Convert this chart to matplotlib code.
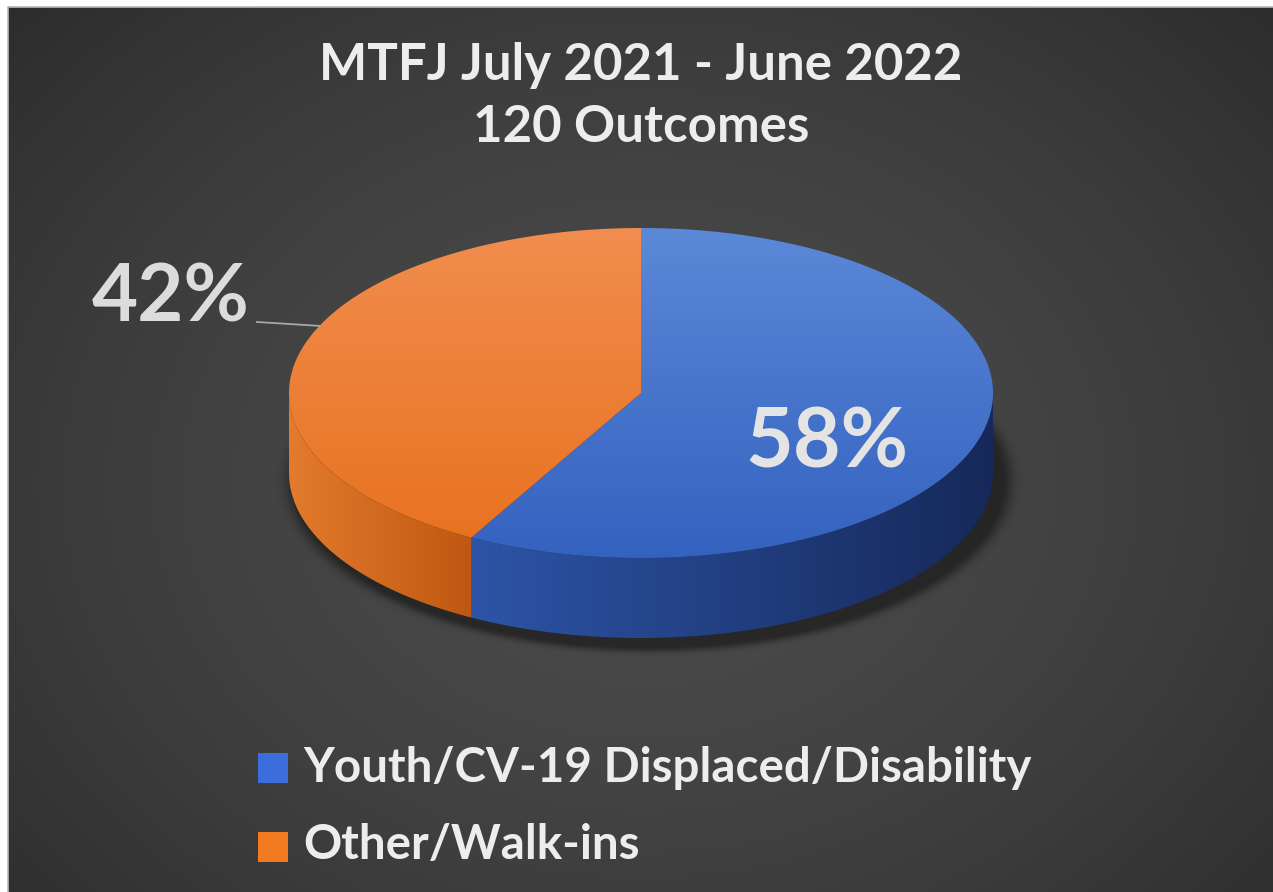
import numpy as np
import matplotlib.pyplot as plt
from matplotlib.patches import Polygon, Rectangle

W, H = 1273, 892

title_lines = ["MTFJ July 2021 - June 2022", "120 Outcomes"]
categories = ["Youth/CV-19 Displaced/Disability", "Other/Walk-ins"]
shares = [58, 42]
pct_labels = ["58%", "42%"]

# slice shading: top face back/front, side wall left/right
top_back = ["#5c88d8", "#f18d4e"]
top_front = ["#3462bf", "#e8711e"]
side_left = ["#2d54a6", "#e27b2c"]
side_right = ["#16295a", "#c05812"]
legend_colors = ["#3b6edb", "#f27a20"]

FONT = "Lato"
TEXT = "#ededed"

# pie geometry in pixels (y grows downward)
cx, cy, a, b, depth = 641, 393, 352, 165, 80


def rim(t, dy=0.0):
    t = np.radians(t)
    return cx + a * np.cos(t), cy - b * np.sin(t) + dy


def hex2rgb(c):
    c = c.lstrip("#")
    return np.array([int(c[i:i + 2], 16) / 255 for i in (0, 2, 4)])


def gradient(c0, c1, n, axis):
    f = np.linspace(0, 1, n)[:, None]
    g = hex2rgb(c0) * (1 - f) + hex2rgb(c1) * f
    return g[:, None, :] if axis == 0 else g[None, :, :]


fig = plt.figure(figsize=(W / 100, H / 100), dpi=100, facecolor="white")
ax = fig.add_axes([0, 0, 1, 1])
ax.set_axis_off()

# dark radial backdrop with a soft shadow under the pie
yy, xx = np.mgrid[0:H, 0:W].astype(float)
r = np.sqrt(((xx - 640) / 700) ** 2 + ((yy - 480) / 560) ** 2)
bg = 0.295 - 0.12 * np.clip(r / 1.25, 0, 1.2) ** 1.6
rs = np.sqrt(((xx - cx - 4) / (a + 2)) ** 2 + ((yy - cy - depth - 4) / (b + 2)) ** 2)
shade = np.where(rs > 1, np.exp(-((rs - 1) / 0.035) ** 2), 1.0)
shade = shade * (yy > cy)
bg = bg * (1 - 0.45 * shade)
ax.imshow(np.dstack([bg, bg, bg]), extent=(8, W, H, 7), origin="upper",
          aspect="auto", zorder=0)
ax.plot([8, 8, W], [H, 7, 7], color="#b8b8b8", lw=1.2, zorder=1)

# slice angles: first slice starts at 12 o'clock and runs clockwise
bounds = 90 - 360 * np.cumsum([0] + shares) / sum(shares)

for i in range(len(shares)):
    t0, t1 = bounds[i], bounds[i + 1]
    ts = np.linspace(t0, t1, 200)
    px, py = rim(ts)
    top = Polygon(np.column_stack([np.r_[cx, px], np.r_[cy, py]]),
                  closed=True, facecolor="none", edgecolor="none")
    ax.add_patch(top)
    im = ax.imshow(gradient(top_back[i], top_front[i], 64, 0),
                   extent=(cx - a, cx + a, cy + b, cy - b), origin="upper",
                   aspect="auto", zorder=3, interpolation="bilinear")
    im.set_clip_path(top)

    # visible front wall: angles between -180 and 0 (mod 360)
    lo, hi = sorted([t0, t1])
    for k in (-360, 0, 360):
        s0, s1 = max(lo + k, -180), min(hi + k, 0)
        if s1 <= s0:
            continue
        ws = np.linspace(s0, s1, 200)
        ux, uy = rim(ws)
        lx, ly = rim(ws[::-1], depth)
        wall = Polygon(np.column_stack([np.r_[ux, lx], np.r_[uy, ly]]),
                       closed=True, facecolor="none", edgecolor="none")
        ax.add_patch(wall)
        x0, x1 = ux.min(), ux.max()
        im = ax.imshow(gradient(side_left[i], side_right[i], 64, 1),
                       extent=(x0, x1, cy + b + depth + 2, cy - 2),
                       origin="upper", aspect="auto", zorder=2,
                       interpolation="bilinear")
        im.set_clip_path(wall)

ax.set_xlim(0, W)
ax.set_ylim(H, 0)


def fit(txt, width):
    fig.canvas.draw()
    w = txt.get_window_extent(fig.canvas.get_renderer()).width
    txt.set_fontsize(txt.get_fontsize() * width / w)
    return txt.get_fontsize()


t1 = ax.text(641, 80, title_lines[0], ha="center", va="baseline",
             fontsize=34, fontweight="bold", family=FONT, color=TEXT, zorder=5)
size = fit(t1, 645)
ax.text(641, 142, title_lines[1], ha="center", va="baseline",
        fontsize=size, fontweight="bold", family=FONT, color=TEXT, zorder=5)

# percentage labels
lab58 = ax.text(745, 468, pct_labels[0], ha="left", va="baseline", fontsize=60,
                fontweight="bold", family=FONT, color="#e4e4e4", zorder=5)
fit(lab58, 163)
lab42 = ax.text(92, 322, pct_labels[1], ha="left", va="baseline", fontsize=60,
                fontweight="bold", family=FONT, color="#dcdcdc", zorder=5)
fit(lab42, 158)
ex, ey = rim(156)
ax.plot([257, ex], [322, ey], color="#a8a8a8", lw=1.3, zorder=4)

# legend
rows = [768, 847]
for i, name in enumerate(categories):
    ax.add_patch(Rectangle((258, rows[i] - 15), 30, 30,
                           facecolor=legend_colors[i], edgecolor="none", zorder=5))
leg0 = ax.text(303, rows[0] + 14, categories[0], ha="left", va="baseline",
               fontsize=30, fontweight="bold", family=FONT, color=TEXT, zorder=5)
lsize = fit(leg0, 727)
ax.text(303, rows[1] + 12, categories[1], ha="left", va="baseline",
        fontsize=lsize, fontweight="bold", family=FONT, color=TEXT, zorder=5)

fig.savefig("out.png", dpi=100, facecolor="white")
